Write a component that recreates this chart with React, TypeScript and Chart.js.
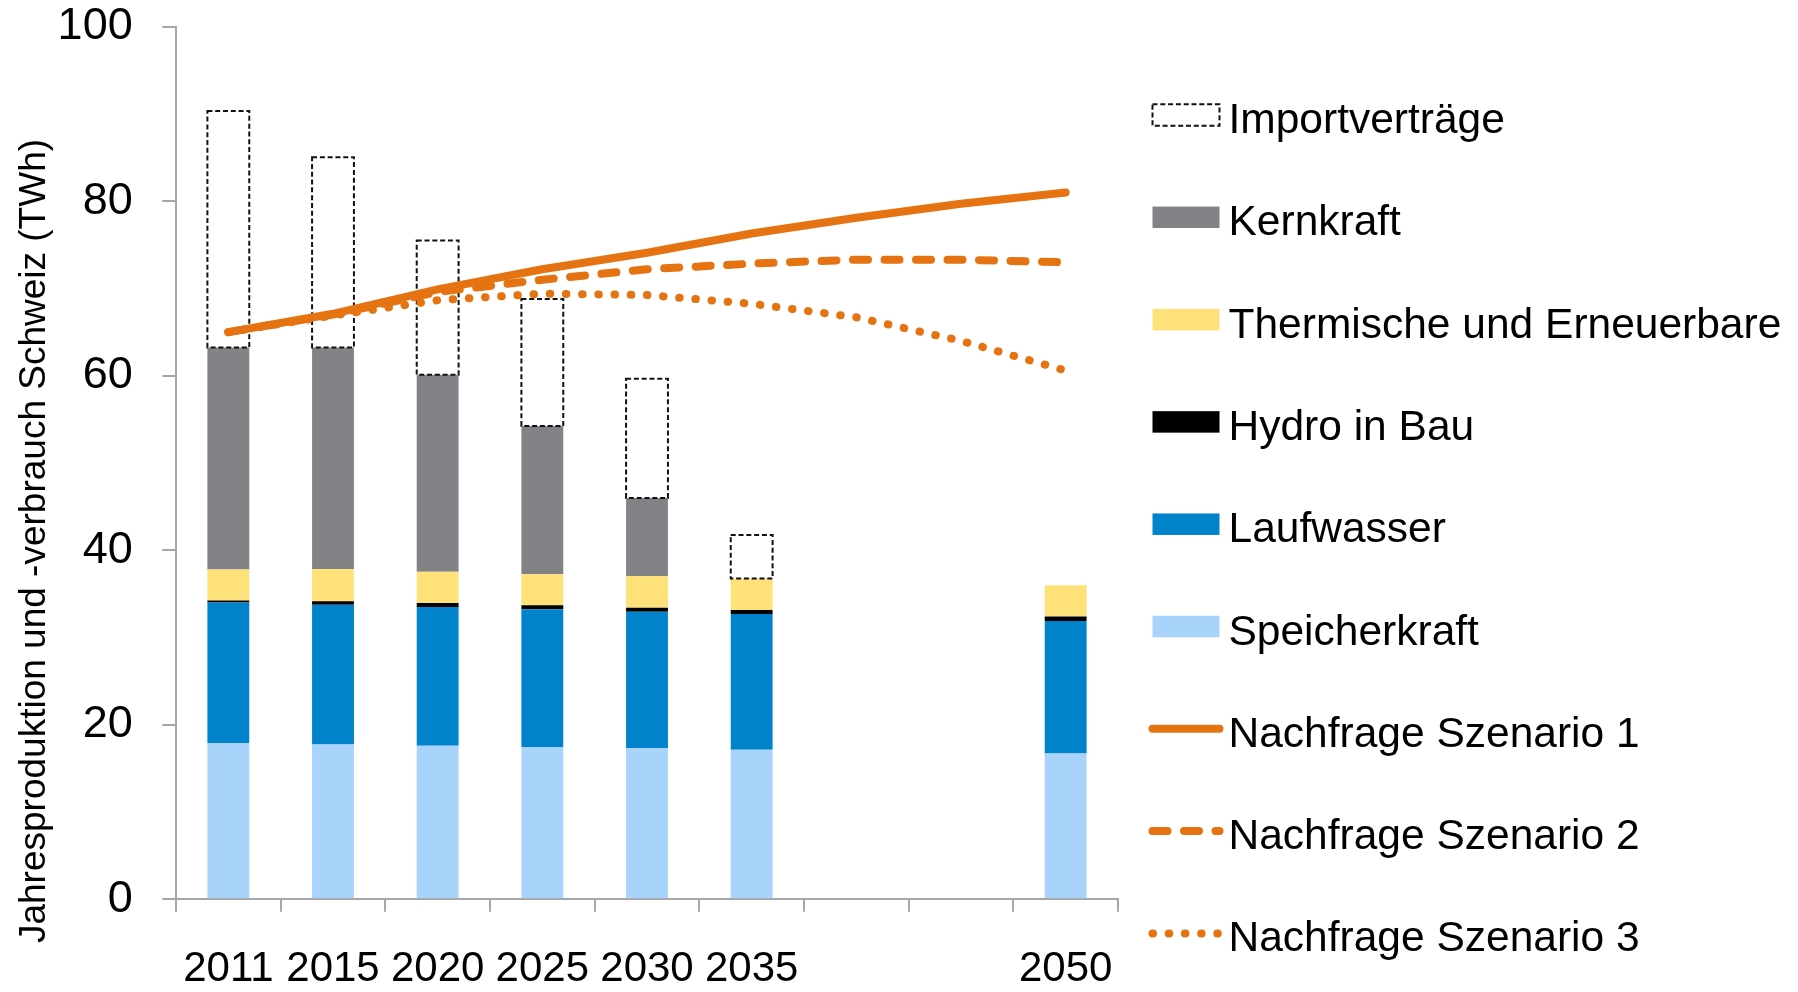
import React, { useEffect, useRef } from "react";
import { Chart, registerables } from "chart.js";

Chart.register(...registerables);

// Category axis: 2040 and 2045 carry no label and no bar, only the demand lines.
const years = ["2011", "2015", "2020", "2025", "2030", "2035", "", "", "2050"];

// Annual production by source (TWh), stacked bottom to top
const speicherkraft = [17.9, 17.75, 17.6, 17.45, 17.3, 17.15, null, null, 16.7];
const laufwasser = [16.1, 16.0, 15.9, 15.8, 15.65, 15.55, null, null, 15.2];
const hydroInBau = [0.25, 0.4, 0.45, 0.45, 0.45, 0.45, null, null, 0.5];
const thermische = [3.55, 3.7, 3.6, 3.55, 3.65, 3.6, null, null, 3.6];
const kernkraft = [25.45, 25.4, 22.55, 17.0, 8.95, 0, null, null, 0];
const importvertraege = [27.1, 21.8, 15.4, 14.55, 13.65, 5.0, null, null, 0];

// Demand scenarios (TWh)
const nachfrage1 = [65.0, 67.1, 69.9, 72.2, 74.1, 76.3, 78.1, 79.7, 81.0];
const nachfrage2 = [65.0, 67.0, 69.6, 71.0, 72.2, 72.85, 73.3, 73.3, 73.0];
const nachfrage3 = [65.0, 66.9, 68.65, 69.4, 69.25, 68.25, 66.7, 64.0, 60.6];

const yMin = 0;
const yMax = 100;
const yStep = 20;

const yTitle = "Jahresproduktion und -verbrauch Schweiz (TWh)";

const FONT = "'Liberation Sans', Arial, Helvetica, sans-serif";
const AXIS_GREY = "#A6A6A6";
const ORANGE = "#E67312";

const IMPORT_INDEX = 5;
// legend rows: dataset indices, top to bottom
const legendRows = [5, 4, 3, 2, 1, 0, 6, 7, 8];

const importDash = [5, 2.8];
const importLineWidth = 2;

// Dashed outline for the import contracts, drawn once all bars are painted
const importOutline = {
  id: "importOutline",
  afterDatasetDraw(chart: any, args: any) {
    if (args.index !== 0) return;
    const meta = chart.getDatasetMeta(IMPORT_INDEX);
    const ctx = chart.ctx;
    ctx.save();
    ctx.setLineDash(importDash);
    ctx.lineWidth = importLineWidth;
    ctx.strokeStyle = "#111111";
    meta.data.forEach((el: any) => {
      const { x, y, base, width } = el.getProps(["x", "y", "base", "width"], true);
      if (!isFinite(y) || !isFinite(base) || Math.abs(base - y) < 0.5) return;
      ctx.strokeRect(x - width / 2, Math.min(y, base), width, Math.abs(base - y));
    });
    ctx.restore();
  },
};

// Right-hand legend and rotated axis title
const sideText = {
  id: "sideText",
  afterDraw(chart: any) {
    const ctx = chart.ctx;
    const boxL = 1152.5;
    const boxR = 1219.5;
    const boxH = 21.5;
    const textX = 1228.5;
    const firstY = 115;
    const step = 102.3;

    legendRows.forEach((di, row) => {
      const ds = chart.data.datasets[di];
      const cy = firstY + row * step;
      ctx.save();
      if (ds.type === "line") {
        ctx.strokeStyle = ds.borderColor;
        ctx.lineWidth = ds.borderWidth;
        ctx.lineCap = "round";
        ctx.setLineDash(ds.borderDash || []);
        ctx.beginPath();
        ctx.moveTo(boxL, cy);
        ctx.lineTo(boxR, cy);
        ctx.stroke();
      } else if (di === IMPORT_INDEX) {
        ctx.setLineDash(importDash);
        ctx.lineWidth = importLineWidth;
        ctx.strokeStyle = "#111111";
        ctx.strokeRect(boxL, cy - boxH / 2, boxR - boxL, boxH);
      } else {
        ctx.fillStyle = ds.backgroundColor;
        ctx.fillRect(boxL, cy - boxH / 2, boxR - boxL, boxH);
      }
      ctx.restore();

      ctx.save();
      ctx.fillStyle = "#000000";
      ctx.font = `42.5px ${FONT}`;
      ctx.textAlign = "left";
      ctx.textBaseline = "alphabetic";
      ctx.fillText(ds.label, textX, cy + 18);
      ctx.restore();
    });

    ctx.save();
    ctx.translate(45, 541);
    ctx.rotate(-Math.PI / 2);
    ctx.fillStyle = "#000000";
    ctx.font = `37px ${FONT}`;
    ctx.textAlign = "center";
    ctx.textBaseline = "alphabetic";
    ctx.fillText(yTitle, 0, 0);
    ctx.restore();
  },
};

function barSet(label: string, data: (number | null)[], color: string) {
  return {
    type: "bar" as const,
    label,
    data,
    backgroundColor: color,
    borderWidth: 0,
    stack: "supply",
    order: 1,
    barPercentage: 0.4,
    categoryPercentage: 1.0,
  };
}

function lineSet(label: string, data: number[], dash: number[], key: string) {
  return {
    type: "line" as const,
    label,
    data,
    borderColor: ORANGE,
    backgroundColor: ORANGE,
    borderWidth: 8,
    borderDash: dash,
    borderCapStyle: "round" as const,
    borderJoinStyle: "round" as const,
    pointRadius: 0,
    pointHoverRadius: 0,
    tension: 0,
    fill: false,
    stack: key,
    order: 0,
  };
}

export default function App() {
  const canvasRef = useRef<HTMLCanvasElement | null>(null);

  useEffect(() => {
    const canvas = canvasRef.current;
    if (!canvas) return;

    const chart = new Chart(canvas, {
      type: "bar",
      data: {
        labels: years,
        datasets: [
          barSet("Speicherkraft", speicherkraft, "#A8D4FC"),
          barSet("Laufwasser", laufwasser, "#0083CA"),
          barSet("Hydro in Bau", hydroInBau, "#000000"),
          barSet("Thermische und Erneuerbare", thermische, "#FFE17A"),
          barSet("Kernkraft", kernkraft, "#838387"),
          barSet("Importverträge", importvertraege, "rgba(255,255,255,0)"),
          lineSet("Nachfrage Szenario 1", nachfrage1, [], "s1"),
          lineSet("Nachfrage Szenario 2", nachfrage2, [15, 16.5], "s2"),
          lineSet("Nachfrage Szenario 3", nachfrage3, [0.5, 15.7], "s3"),
        ] as any,
      },
      options: {
        responsive: false,
        animation: false,
        devicePixelRatio: 1,
        layout: { padding: { top: 26.7, right: 680, left: 0, bottom: 0 } },
        plugins: {
          legend: { display: false },
          tooltip: { enabled: false },
        },
        scales: {
          x: {
            stacked: true,
            offset: true,
            afterFit: (s: any) => {
              s.height = 92.7;
              s.paddingLeft = 0;
              s.paddingRight = 0;
            },
            grid: {
              display: true,
              offset: true,
              drawOnChartArea: false,
              drawTicks: true,
              tickLength: 12.5,
              tickColor: AXIS_GREY,
              tickWidth: 2,
              color: AXIS_GREY,
              lineWidth: 2,
            },
            border: { display: true, color: AXIS_GREY, width: 2 },
            ticks: {
              color: "#000000",
              font: { family: FONT, size: 42 },
              padding: 32.5,
              autoSkip: false,
              maxRotation: 0,
              minRotation: 0,
            },
          },
          y: {
            stacked: true,
            min: yMin,
            max: yMax,
            afterFit: (s: any) => {
              s.width = 176;
              s.paddingTop = 0;
              s.paddingBottom = 0;
            },
            grid: {
              display: true,
              drawOnChartArea: false,
              drawTicks: true,
              tickLength: 13.7,
              tickColor: AXIS_GREY,
              tickWidth: 2,
              color: AXIS_GREY,
              lineWidth: 2,
            },
            border: { display: true, color: AXIS_GREY, width: 2 },
            ticks: {
              stepSize: yStep,
              color: "#000000",
              font: { family: FONT, size: 45 },
              padding: 29.6,
            },
          },
        },
      } as any,
      plugins: [importOutline, sideText],
    });

    return () => chart.destroy();
  }, []);

  return (
    <div
      style={{
        position: "fixed",
        left: 0,
        top: 0,
        width: 1798,
        height: 992,
        background: "#ffffff",
      }}
    >
      <canvas ref={canvasRef} width={1798} height={992} style={{ display: "block" }} />
    </div>
  );
}
